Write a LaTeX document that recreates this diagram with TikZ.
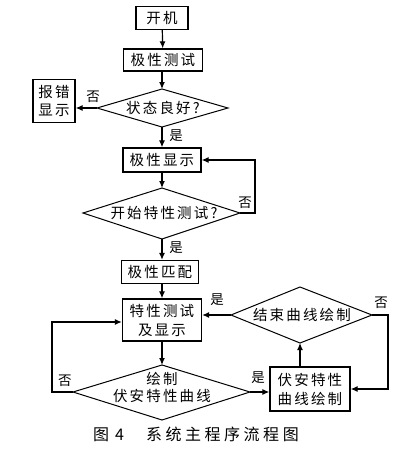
\documentclass[tikz,border=0pt]{standalone}
\usepackage{fontspec}
\usetikzlibrary{arrows.meta}
\newfontfamily\cjk[LetterSpace=15]{Noto Sans CJK SC}
\newfontfamily\cjkcap[LetterSpace=22]{Noto Sans CJK SC}
\begin{document}
\begin{tikzpicture}[x=1pt,y=-1pt,
  box/.style={draw, line width=1.3pt, inner sep=0pt, align=center,
    font=\cjk\fontsize{14.5}{17}\selectfont},
  dtext/.style={inner sep=0pt, align=center,
    font=\cjk\fontsize{14.5}{17}\selectfont},
  dline/.style={line width=1pt, line join=miter},
  lab/.style={font=\cjk\fontsize{13.5}{15}\selectfont, inner sep=0pt},
  arr/.style={line width=1.2pt, -{Latex[length=7pt,width=6pt]}}]
\useasboundingbox (0,0) rectangle (407,451);
% boxes
\node[box, minimum width=52pt, minimum height=23pt] (start) at (162,18) {开机};
\node[box, minimum width=79pt, minimum height=22pt] (test) at (163,60) {极性测试};
\node[box, minimum width=42pt, minimum height=43pt, font=\cjk\fontsize{14.5}{18}\selectfont] (err) at (54,101) {报错\\显示};
\node[box, minimum width=78pt, minimum height=24pt] (disp) at (162,160) {极性显示};
\node[box, minimum width=77pt, minimum height=23pt] (match) at (160,272) {极性匹配};
\node[box, minimum width=79pt, minimum height=42pt, font=\cjk\fontsize{14.5}{19}\selectfont] (meas) at (162,320) {特性测试\\及显示};
\node[box, minimum width=80pt, minimum height=44pt, font=\cjk\fontsize{14.5}{19}\selectfont] (curve) at (310,389) {伏安特性\\曲线绘制};
% diamond 1
\coordinate (d1n) at (162,89); \coordinate (d1e) at (228,108);
\coordinate (d1s) at (162,127); \coordinate (d1w) at (97,108);
\draw[dline] (d1n) -- (d1e) -- (d1s) -- (d1w) -- cycle;
\node[dtext] (d1) at (163,108) {状态良好?};
% diamond 2
\coordinate (d2n) at (162,188); \coordinate (d2e) at (240,213);
\coordinate (d2s) at (162,239); \coordinate (d2w) at (83,213);
\draw[dline] (d2n) -- (d2e) -- (d2s) -- (d2w) -- cycle;
\node[dtext] (d2) at (164,213) {开始特性测试?};
% diamond 3
\coordinate (d3n) at (300,287); \coordinate (d3e) at (372,315);
\coordinate (d3s) at (300,343); \coordinate (d3w) at (231,315);
\draw[dline] (d3n) -- (d3e) -- (d3s) -- (d3w) -- cycle;
\node[dtext] (d3) at (302,315) {结束曲线绘制};
% diamond 4
\coordinate (d4n) at (162,365); \coordinate (d4e) at (250,392);
\coordinate (d4s) at (162,420); \coordinate (d4w) at (73,392);
\draw[dline] (d4n) -- (d4e) -- (d4s) -- (d4w) -- cycle;
\node[dtext] (d4) at (162,387) {绘制\\伏安特性曲线};
% bends
\coordinate (c2) at (255,213);
\coordinate (c3) at (388,315);
\coordinate (c4) at (52,392);
% connectors
\draw[arr] (start) -- (test);
\draw[arr] (test.south -| d1n) -- (d1n);
\draw[arr] (d1w) -- (d1w -| err.east);
\draw[arr] (d1s) -- (d1s |- disp.north);
\draw[arr] (disp.south -| d2n) -- (d2n);
\draw[arr] (d2e) -- (c2) |- (disp.east);
\draw[arr] (d2s) -- (d2s |- match.north);
\draw[arr] (match.south -| meas.north) -- (meas.north);
\draw[arr] (meas.south -| d4n) -- (d4n);
\draw[arr] (d4e) -- (d4e -| curve.west);
\draw[arr] (curve.north -| d3s) -- (d3s);
\draw[arr] (d3w) -- (d3w -| meas.east);
\draw[arr] (d3e) -- (c3) |- (curve.east);
\draw[arr] (d4w) -- (c4) |- ([yshift=-2pt]meas.west);
% labels
\node[lab] (l1) at (93,97) {否};
\node[lab] (l2) at (176,136) {是};
\node[lab] (l3) at (245,203) {否};
\node[lab] (l4) at (176,248) {是};
\node[lab] (l5) at (217,300) {是};
\node[lab] (l6) at (381,303) {否};
\node[lab] (l7) at (258,378) {是};
\node[lab] (l8) at (65,381) {否};
\node[font=\cjkcap\fontsize{16}{18}\selectfont, inner sep=0pt] (cap) at (196,434) {图\hspace{6pt}4\hspace{22pt}系统主程序流程图};
\end{tikzpicture}
\end{document}
